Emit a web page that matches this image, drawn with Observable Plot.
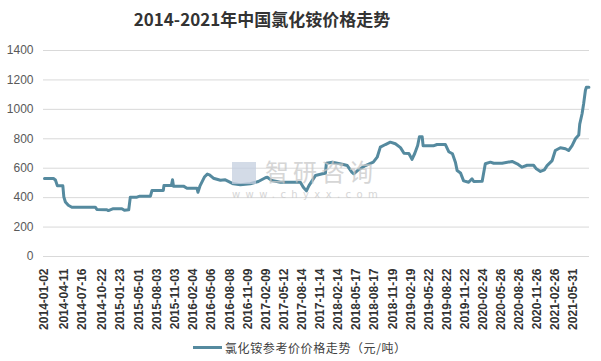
<!DOCTYPE html>
<html>
<head>
<meta charset="utf-8">
<script src="https://cdn.jsdelivr.net/npm/d3@7"></script>
<script src="https://cdn.jsdelivr.net/npm/@observablehq/plot@0.6"></script>
<style>
  body { margin: 0; background: #fff; font-family: "Noto Sans CJK SC", "Noto Sans", sans-serif; }
  #wrap { position: relative; width: 601px; height: 361px; overflow: hidden; }
  #title { height: 36px; width: 524px; text-align: center; font-size: 17px; font-weight: bold; color: #333; line-height: 1; box-sizing: border-box; }
  #title span { display: inline-block; margin-top: 10px; }
  #legend { position: absolute; left: 193px; top: 338px; height: 18px; display: flex; align-items: center; font-size: 12px; color: #404040; letter-spacing: 0.6px; }
  #legend .sw { width: 29px; height: 3px; background: #558a9f; margin-right: 3px; }
  #wm { position: absolute; left: 232px; top: 159px; color: #c9c9c9; opacity: 0.75; pointer-events: none; }
  #wm .logo { position: absolute; left: 0; top: 3px; width: 24px; height: 22px; background: #c5cfe0; }
  #wm .cn { position: absolute; left: 33px; top: 0px; font-size: 24px; line-height: 24px; height: 24px; letter-spacing: 4px; white-space: nowrap; }
  #wm .en { position: absolute; left: 0px; top: 31px; font-size: 10px; line-height: 10px; height: 10px; letter-spacing: 5.4px; white-space: nowrap; font-family: "DejaVu Sans", sans-serif; }
</style>
</head>
<body>
<div id="wrap">
  <div id="title"><span>2014-2021年中国氯化铵价格走势</span></div>
  <div id="chart"></div>
  <div id="wm"><div class="logo"></div><div class="cn">智研咨询</div><div class="en">www.chyxx.com</div></div>
  <div id="legend"><div class="sw"></div><div>氯化铵参考价价格走势（元/吨）</div></div>
</div>
<script>
const dates = [
  "2014-01-02","2014-02-17","2014-02-27","2014-03-09","2014-04-06","2014-04-11","2014-04-19","2014-05-04","2014-05-22",
  "2014-09-19","2014-09-27","2014-11-17","2014-11-25","2014-12-20","2015-02-02","2015-02-15","2015-03-09","2015-03-17",
  "2015-04-20","2015-05-05","2015-06-28","2015-07-06","2015-09-02","2015-09-05","2015-10-13","2015-10-19","2015-10-24",
  "2015-12-14","2016-01-01","2016-02-21","2016-02-26","2016-03-07","2016-03-30","2016-04-14","2016-04-25","2016-05-15",
  "2016-06-20","2016-07-15","2016-08-25","2016-09-30","2016-11-20","2016-12-31","2017-02-05","2017-02-15","2017-03-10",
  "2017-04-23","2017-08-03","2017-08-18","2017-09-03","2017-09-16","2017-10-19","2017-11-24","2017-12-09","2017-12-14",
  "2018-01-14","2018-03-11","2018-03-31","2018-04-23","2018-05-03","2018-05-28","2018-07-02","2018-08-11","2018-08-31",
  "2018-09-16","2018-10-12","2018-11-06","2018-12-02","2018-12-28","2019-01-15","2019-02-09","2019-02-25","2019-03-11",
  "2019-03-26","2019-04-04","2019-04-18","2019-04-23","2019-06-14","2019-07-03","2019-08-15","2019-09-01","2019-09-20",
  "2019-10-05","2019-10-14","2019-10-31","2019-11-16","2019-12-12","2019-12-29","2020-01-07","2020-02-19","2020-03-06",
  "2020-04-01","2020-04-18","2020-05-31","2020-07-21","2020-08-16","2020-09-10","2020-10-06","2020-11-08","2020-11-22",
  "2020-12-13","2021-01-02","2021-01-16","2021-02-11","2021-02-27","2021-03-25","2021-04-20","2021-05-06","2021-05-24",
  "2021-06-10","2021-06-27","2021-07-02","2021-07-14","2021-07-22","2021-07-31","2021-08-05","2021-08-18"
];
const prices = [
  530,530,520,480,480,405,370,348,335,
  335,320,318,312,325,325,314,318,403,
  403,410,410,449,449,482,482,521,478,
  478,464,464,437,478,540,560,555,532,
  518,521,494,487,494,510,535,539,516,
  505,505,471,446,482,550,562,565,634,
  641,625,618,573,562,590,618,641,675,
  743,761,777,766,740,702,700,660,700,
  754,814,814,752,752,761,761,712,698,
  641,584,568,514,505,528,510,512,630,
  641,634,634,646,630,607,620,620,596,
  578,589,618,652,720,739,732,720,754,
  800,825,900,970,1038,1128,1150,1150
];
const xTickLabels = [
  "2014-01-02","2014-04-11","2014-07-16","2014-10-22","2015-01-23","2015-05-01","2015-08-03","2015-11-03",
  "2016-02-04","2016-05-06","2016-08-08","2016-11-09","2017-02-09","2017-05-12","2017-08-14","2017-11-14",
  "2018-02-14","2018-05-17","2018-08-17","2018-11-19","2019-02-19","2019-05-22","2019-08-22","2019-11-22",
  "2020-02-24","2020-05-26","2020-08-26","2020-11-26","2021-02-26","2021-05-31"
];
const yTicks = [0, 200, 400, 600, 800, 1000, 1200, 1400];
const xDomain = ["2013-12-28", "2021-08-21"];

const data = dates.map((d, i) => ({date: new Date(d), price: prices[i]}));
const fmt = d3.utcFormat("%Y-%m-%d");

const chart = Plot.plot({
  width: 601,
  height: 300,
  marginLeft: 43,
  marginRight: 12,
  marginTop: 14,
  marginBottom: 80,
  style: {fontFamily: "'Liberation Sans', Arial, sans-serif", background: "transparent"},
  x: {type: "utc", domain: xDomain.map(d => new Date(d)), label: null},
  y: {domain: [0, 1400], label: null},
  marks: [
    Plot.gridY(yTicks, {stroke: "#d9d9d9", strokeOpacity: 1, strokeWidth: 1}),
    Plot.axisY(yTicks, {tickSize: 0, tickPadding: 10, fontSize: 12, fill: "#595959", label: null, tickFormat: d => String(d)}),
    Plot.axisX(xTickLabels.map(d => new Date(d)), {
      tickSize: 0, tickPadding: 12, tickRotate: -90, tickFormat: fmt,
      fontSize: 12, fill: "#333", fontWeight: "bold", label: null,
      fontFamily: "'Liberation Sans', Arial, sans-serif"
    }),
    Plot.lineY(data, {x: "date", y: "price", stroke: "#558a9f", strokeWidth: 3, strokeLinejoin: "round"})
  ]
});
document.getElementById("chart").appendChild(chart);
</script>
</body>
</html>
